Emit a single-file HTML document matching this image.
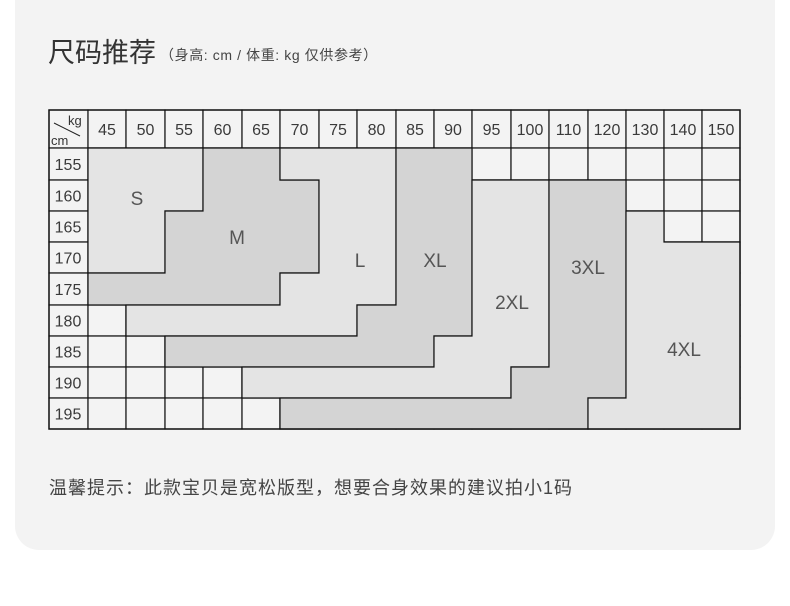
<!DOCTYPE html>
<html><head><meta charset="utf-8"><style>
html,body{margin:0;padding:0;background:#fff;width:790px;height:606px;overflow:hidden}
svg{display:block}
text{font-family:"Liberation Sans","Noto Sans CJK SC",sans-serif}
</style></head><body>
<svg width="790" height="606" viewBox="0 0 790 606" xmlns="http://www.w3.org/2000/svg">
<rect x="15" y="-30" width="760" height="580" rx="24" fill="#f3f3f3"/>
<text x="48" y="62" font-size="27" fill="#333">尺码推荐</text>
<text x="160" y="60" font-size="14" fill="#444" letter-spacing="0.6">（身高: cm / 体重: kg  仅供参考）</text>
<g id="grid" stroke="#111" stroke-width="1.2" fill="#f3f3f3"></g>
<g id="regions" stroke="#111" stroke-width="1.2">
<polygon fill="#e4e4e4" points="88,148 203,148 203,211 165,211 165,273 88,273"/>
<polygon fill="#d4d4d4" points="203,148 280,148 280,180 319,180 319,273 280,273 280,305 88,305 88,273 165,273 165,211 203,211"/>
<polygon fill="#e4e4e4" points="280,148 396,148 396,305 357,305 357,336 126,336 126,305 280,305 280,273 319,273 319,180 280,180"/>
<polygon fill="#d4d4d4" points="396,148 472,148 472,336 434,336 434,367 165,367 165,336 357,336 357,305 396,305"/>
<polygon fill="#e4e4e4" points="472,180 549,180 549,367 511,367 511,398 242,398 242,367 434,367 434,336 472,336"/>
<polygon fill="#d4d4d4" points="549,180 626,180 626,398 588,398 588,429 280,429 280,398 511,398 511,367 549,367"/>
<polygon fill="#e4e4e4" points="626,211 664,211 664,242 740,242 740,429 588,429 588,398 626,398"/>
</g>
<rect x="49" y="110" width="691" height="319" fill="none" stroke="#111" stroke-width="1.4"/>
<line x1="54" y1="123" x2="80" y2="136" stroke="#222" stroke-width="1"/>
<text x="68" y="125" font-size="13" fill="#333">kg</text>
<text x="51" y="145" font-size="13" fill="#333">cm</text>
<g id="labels" font-size="16" fill="#3a3a3a" text-anchor="middle"></g>
<g font-size="19" fill="#555" text-anchor="middle">
<text x="137" y="205">S</text>
<text x="237" y="244">M</text>
<text x="360" y="267">L</text>
<text x="435" y="267">XL</text>
<text x="512" y="309">2XL</text>
<text x="588" y="274">3XL</text>
<text x="684" y="356">4XL</text>
</g>
<text x="49" y="494" font-size="18" fill="#444" letter-spacing="1">温馨提示：此款宝贝是宽松版型，想要合身效果的建议拍小1码</text>
<script>
var cx=[49,88,126,165,203,242,280,319,357,396,434,472,511,549,588,626,664,702,740];
var ry=[110,148,180,211,242,273,305,336,367,398,429];
var g=document.getElementById('grid'),l=document.getElementById('labels');
var ns='http://www.w3.org/2000/svg';
for(var r=0;r<10;r++)for(var c=0;c<18;c++){var e=document.createElementNS(ns,'rect');e.setAttribute('x',cx[c]);e.setAttribute('y',ry[r]);e.setAttribute('width',cx[c+1]-cx[c]);e.setAttribute('height',ry[r+1]-ry[r]);g.appendChild(e);}
var w=[45,50,55,60,65,70,75,80,85,90,95,100,110,120,130,140,150];
for(var i=0;i<17;i++){var t=document.createElementNS(ns,'text');t.setAttribute('x',(cx[i+1]+cx[i+2])/2);t.setAttribute('y',135);t.textContent=w[i];l.appendChild(t);}
var h=[155,160,165,170,175,180,185,190,195];
for(var j=0;j<9;j++){var t=document.createElementNS(ns,'text');t.setAttribute('x',68);t.setAttribute('y',(ry[j+1]+ry[j+2])/2+6);t.textContent=h[j];l.appendChild(t);}
</script>
</svg>
</body></html>
